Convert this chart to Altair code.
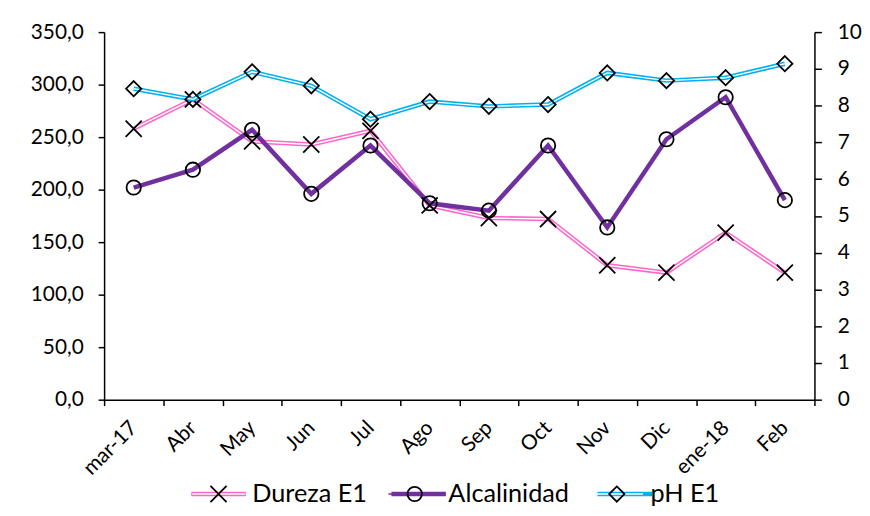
import altair as alt
import pandas as pd

# ---------------- data ----------------
meses = ["mar-17", "Abr", "May", "Jun", "Jul", "Ago", "Sep", "Oct", "Nov", "Dic", "ene-18", "Feb"]
dureza = [258, 286, 246, 243, 256, 185, 173, 172, 128, 121, 159, 121]
alcalinidad = [202, 219, 257, 196, 242, 187, 180, 242, 164, 248, 288, 190]
ph = [8.46, 8.17, 8.92, 8.54, 7.63, 8.11, 7.98, 8.03, 8.89, 8.68, 8.76, 9.14]
series = ["Dureza E1", "Alcalinidad", "pH E1"]
colores = ["#FF66CC", "#7030A0", "#00B0F0"]
interior = ["#FFFFFF", "#7030A0", "#FFFFFF"]
ticks_izq = [0, 50, 100, 150, 200, 250, 300, 350]
ticks_der = [0, 1, 2, 3, 4, 5, 6, 7, 8, 9, 10]

# marker paths (unit = sqrt(size)/2)
marcadores = [
    "M-0.28,-0.28L0.28,0.28M-0.28,0.28L0.28,-0.28",
    "M0.25,0C0.25,0.138,0.138,0.25,0,0.25C-0.138,0.25,-0.25,0.138,-0.25,0"
    "C-0.25,-0.138,-0.138,-0.25,0,-0.25C0.138,-0.25,0.25,-0.138,0.25,0Z",
    "M0,-0.265L0.265,0L0,0.265L-0.265,0Z",
]

rows = []
for s, vals in zip(series, [dureza, alcalinidad, ph]):
    for m, v in zip(meses, vals):
        rows.append({"mes": m, "serie": s, "valor": v,
                     "serie_b": "b:" + s, "serie_c": "c:" + s})
df = pd.DataFrame(rows)

FONT = "Lato"

# ---------------- legends (three overlaid, same layout) ----------------
leg_common = dict(orient="none", legendX=82.5, legendY=436, direction="horizontal",
                  title=None, padding=0, symbolOffset=3, labelOffset=4,
                  columnPadding=15, labelFont=FONT, labelFontSize=25.5, labelColor="black")

legA = alt.Legend(symbolType="M-1,0L1,0", symbolSize=3025, symbolStrokeWidth=4.5,
                  labelOpacity=0, **leg_common)
legB = alt.Legend(symbolType="M-0.914,0L0.914,0", symbolSize=3364, symbolStrokeWidth=1.4,
                  labelOpacity=0, labelExpr="slice(datum.label, 2)", **leg_common)
legC = alt.Legend(symbolSize=3364, symbolStrokeWidth=1.8, symbolStrokeColor="black",
                  symbolFillColor="transparent",
                  labelExpr="slice(datum.label, 2)", **leg_common)

# ---------------- encodings ----------------
x_axis = alt.Axis(title=None, labelAngle=-45, labelAlign="right", labelBaseline="middle",
                  tickBand="extent", tickSize=6, labelPadding=19, labelOverlap=False)
x = alt.X("mes:N", scale=alt.Scale(type="band", domain=meses, paddingInner=0, paddingOuter=0),
          bandPosition=0.5, axis=x_axis)

y_left = alt.Y("valor:Q", scale=alt.Scale(domain=[0, 350], nice=False, zero=True),
               axis=alt.Axis(title=None, orient="left", values=ticks_izq, tickSize=6,
                             labelPadding=15,
                             labelExpr="replace(format(datum.value, '.1f'), '.', ',')"))
y_right = alt.Y("valor:Q", scale=alt.Scale(domain=[0, 10], nice=False, zero=True),
                axis=alt.Axis(title=None, orient="right", values=ticks_der, tickSize=7,
                              labelPadding=16, format="d"))

color = alt.Color("serie:N", scale=alt.Scale(domain=series, range=colores), legend=legA)
stroke = alt.Stroke("serie_b:N", scale=alt.Scale(domain=["b:" + s for s in series], range=interior),
                    legend=legB)
shape = alt.Shape("serie_c:N", scale=alt.Scale(domain=["c:" + s for s in series], range=marcadores),
                  legend=legC)

base = alt.Chart(df)
f_dur = "datum.serie == 'Dureza E1'"
f_alc = "datum.serie == 'Alcalinidad'"
f_ph = "datum.serie == 'pH E1'"

L1 = base.transform_filter(f_dur).mark_line(strokeWidth=4.5).encode(x=x, y=y_left, color=color)
L2 = base.transform_filter(f_dur).mark_line(strokeWidth=1.4).encode(x=x, y=y_left, stroke=stroke)
L3 = base.transform_filter(f_alc).mark_line(strokeWidth=4.5).encode(x=x, y=y_left, color=color)
L4 = base.transform_filter(f_dur + " || " + f_alc).mark_point(
    filled=False, size=3364, strokeWidth=1.8, color="black", opacity=1
).encode(x=x, y=y_left, shape=shape)

R1 = base.transform_filter(f_ph).mark_line(strokeWidth=4.5).encode(x=x, y=y_right, color=color)
R2 = base.transform_filter(f_ph).mark_line(strokeWidth=1.4).encode(x=x, y=y_right, stroke=stroke)
R3 = base.transform_filter(f_ph).mark_point(
    filled=False, size=3364, strokeWidth=1.8, color="black", opacity=1
).encode(x=x, y=y_right, shape=shape)

left = alt.layer(L1, L2, L3, L4)
right = alt.layer(R1, R2, R3)

chart = alt.layer(left, right).resolve_scale(y="independent").properties(
    width=717, height=371,
    autosize=alt.AutoSizeParams(type="none"),
    padding={"left": 97, "top": 22, "right": 48, "bottom": 107},
).configure_view(stroke=None).configure_axis(
    grid=False, labelFont=FONT, labelFontSize=21, labelColor="black",
    domainColor="black", domainWidth=1.5, tickColor="black", tickWidth=1.5,
)

chart.save("out.html", embed_options={"renderer": "svg", "actions": False})
